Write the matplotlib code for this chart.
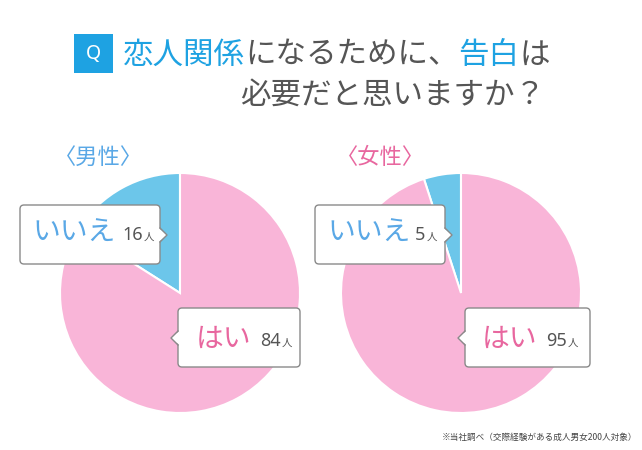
import matplotlib
matplotlib.use("Agg")
import matplotlib.pyplot as plt
from matplotlib.patches import FancyBboxPatch, Polygon, Rectangle
from matplotlib.lines import Line2D

plt.rcParams['font.family'] = ['Noto Sans CJK JP', 'DejaVu Sans']

# ---- data ----
categories = ['いいえ', 'はい']
male_counts = [16, 84]
female_counts = [5, 95]
group_labels = ['〈男性〉', '〈女性〉']
unit = '人'
title_parts = [('恋人関係', 'blue'), ('になるために、', 'gray'), ('告白', 'blue'), ('は', 'gray')]
title_line2 = '必要だと思いますか？'
footnote = '※当社調べ（交際経験がある成人男女200人対象）'

PINK = '#F9B5D8'
BLUE = '#6CC6EA'
TITLE_BLUE = '#1EA2E2'
GRAY = '#555555'
LABEL_BLUE = '#5AA8E6'
LABEL_PINK = '#E8679F'

W, H = 642, 450
fig = plt.figure(figsize=(W / 100, H / 100), dpi=100)
ax = fig.add_axes([0, 0, 1, 1])


def Y(y):
    return H - y


# ---- pies ----
for counts, cx in [(male_counts, 180), (female_counts, 461)]:
    ax.pie(counts, colors=[BLUE, PINK], startangle=90, counterclock=True,
           center=(cx, Y(293)), radius=120,
           wedgeprops=dict(edgecolor='white', linewidth=1.5))

ax.set_xlim(0, W)
ax.set_ylim(0, H)
ax.set_aspect('equal')
ax.axis('off')

# ---- title ----
ax.add_patch(Rectangle((74, Y(73)), 39, 39, facecolor=TITLE_BLUE, edgecolor='none', zorder=5))
ax.text(93.5, Y(54), 'Q', color='white', fontsize=14, ha='center', va='center', zorder=6,
        family=['Noto Sans', 'DejaVu Sans'])

fs_title = 22
x = 123
renderer = fig.canvas.get_renderer()
for txt, col in title_parts:
    t = ax.text(x, Y(55), txt, fontsize=fs_title, color=TITLE_BLUE if col == 'blue' else GRAY,
                ha='left', va='center')
    bb = t.get_window_extent(renderer=renderer)
    x += bb.width
ax.text(545, Y(95), title_line2, fontsize=fs_title, color=GRAY, ha='right', va='center')

# ---- group labels ----
ax.text(54, Y(157), group_labels[0], fontsize=16, color=LABEL_BLUE, ha='left', va='center')
ax.text(336, Y(157), group_labels[1], fontsize=16, color=LABEL_PINK, ha='left', va='center')


# ---- callouts ----
def callout(x0, y0, x1, y1, side, py, tip):
    w, h = x1 - x0, y1 - y0
    box = FancyBboxPatch((x0, Y(y1)), w, h, boxstyle='round,pad=0,rounding_size=4',
                         facecolor='white', edgecolor='#8a8a8a', linewidth=1.0, zorder=10)
    ax.add_patch(box)
    hh = 7
    if side == 'right':
        bx = x1
        pts = [(bx - 1.5, Y(py - hh)), (tip, Y(py)), (bx - 1.5, Y(py + hh))]
        edge = [(bx, Y(py - hh)), (tip, Y(py)), (bx, Y(py + hh))]
    else:
        bx = x0
        pts = [(bx + 1.5, Y(py - hh)), (tip, Y(py)), (bx + 1.5, Y(py + hh))]
        edge = [(bx, Y(py - hh)), (tip, Y(py)), (bx, Y(py + hh))]
    ax.add_patch(Polygon(pts, closed=True, facecolor='white', edgecolor='none', zorder=11))
    ax.add_line(Line2D([p[0] for p in edge], [p[1] for p in edge], color='#8a8a8a',
                       linewidth=1.0, zorder=12))


def label(xl, yc, name, color, xn, count):
    ax.text(xl, Y(yc), name, fontsize=20, color=color, ha='left', va='center', zorder=13)
    t = ax.text(xn, Y(yc + 2), str(count), fontsize=13, color=GRAY, ha='left', va='center',
                zorder=13, family=['Noto Sans', 'DejaVu Sans'])
    bb = t.get_window_extent(renderer=renderer)
    ax.text(xn + bb.width + 1, Y(yc + 4), unit, fontsize=7.5, color=GRAY, ha='left',
            va='center', zorder=13)


# male
callout(20, 205, 160, 264, 'right', 235, 167)
label(32, 233, categories[0], LABEL_BLUE, 122, male_counts[0])
callout(178, 308, 300, 367, 'left', 338, 171)
label(196, 339, categories[1], LABEL_PINK, 260, male_counts[1])

# female
callout(315, 205, 445, 264, 'right', 235, 452)
label(327, 233, categories[0], LABEL_BLUE, 415, female_counts[0])
callout(465, 308, 590, 367, 'left', 338, 458)
label(482, 339, categories[1], LABEL_PINK, 546, female_counts[1])

# ---- footnote ----
ax.text(637, Y(437), footnote, fontsize=6.2, color='#444444', ha='right', va='center')

fig.savefig('out.png', dpi=100)
